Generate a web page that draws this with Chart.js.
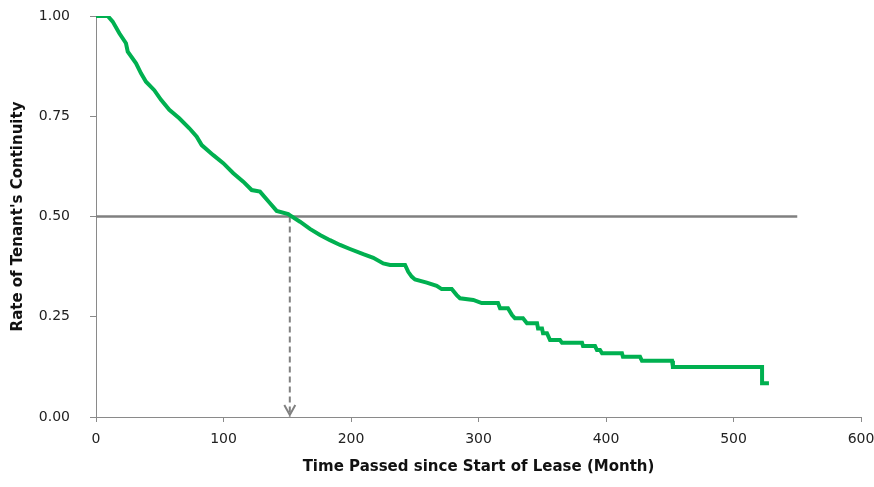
<!DOCTYPE html>
<html lang="en">
<head>
  <meta charset="UTF-8" />
  <script src="https://cdn.jsdelivr.net/npm/chart.js"></script>
  <title>Tenant Continuity</title>
  <style>
    html, body { margin: 0; padding: 0; background: #fff; }
    #wrap { width: 874px; height: 487px; }
  </style>
</head>
<body>
  <div id="wrap"><canvas id="survivalChart"></canvas></div>

  <script>
    // Kaplan-Meier style curve (months, rate)
    const timeMonths = [
      0, 9.2, 13.1, 18.3, 23.5, 24.9, 31.4, 35.3, 39.2, 45.7, 51, 57.5, 65.3, 73.2,
      79, 82.9, 92, 99.8, 107.7, 115.5, 122.1, 128.6, 136.5, 141.7, 150.8, 152.2, 160,
      167.8, 175.7, 183.5, 191.4, 199.2, 209.6, 217.5, 225.3, 230.6, 242.4, 244.9, 247.6,
      250.2, 259.4, 267.2, 271.1, 279, 282.9, 285.5, 295.9, 302.5, 315.3, 316.9, 323.1,
      326.3, 328.6, 334.9, 338, 345.9, 346.7, 349.8, 350.6, 353.7, 356.1, 363.9, 365.5,
      381.2, 382, 391.4, 392.9, 395.3, 396.9, 412.5, 413.3, 426.7, 428.2, 451.8, 452.5,
      522.4, 522.4, 527.8
    ];
    const continuity = [
      1.0, 1.0, 0.986, 0.957, 0.932, 0.911, 0.882, 0.857, 0.836, 0.815, 0.791, 0.766, 0.745, 0.72,
      0.699, 0.678, 0.653, 0.633, 0.608, 0.587, 0.566, 0.562, 0.533, 0.514, 0.506, 0.503, 0.487,
      0.469, 0.454, 0.441, 0.429, 0.419, 0.406, 0.397, 0.383, 0.379, 0.379, 0.362, 0.35,
      0.343, 0.335, 0.327, 0.319, 0.319, 0.304, 0.296, 0.292, 0.284, 0.284, 0.271, 0.271,
      0.254, 0.246, 0.246, 0.234, 0.234, 0.221, 0.221, 0.209, 0.209, 0.192, 0.192, 0.185,
      0.185, 0.177, 0.177, 0.167, 0.167, 0.159, 0.159, 0.15, 0.15, 0.14, 0.14, 0.125,
      0.125, 0.084, 0.084
    ];

    // median reference lines
    const medianRate = 0.5;
    const medianTime = 152;
    const medianLineEnd = 550;

    const xTicks = [0, 100, 200, 300, 400, 500, 600];
    const yTicks = [0, 0.25, 0.5, 0.75, 1.0];

    const FONT = '"DejaVu Sans", Tahoma, sans-serif';
    const AXIS_GRAY = '#8a8a8a';

    // little open arrow head at the foot of the dashed median line
    const arrowHead = {
      id: 'arrowHead',
      afterDatasetsDraw(chart) {
        const {ctx, scales} = chart;
        const x = scales.x.getPixelForValue(medianTime);
        const y = scales.y.getPixelForValue(0);
        ctx.save();
        ctx.strokeStyle = '#808080';
        ctx.lineWidth = 2;
        ctx.beginPath();
        ctx.moveTo(x - 5.5, y - 12);
        ctx.lineTo(x, y - 2);
        ctx.lineTo(x + 5.5, y - 12);
        ctx.stroke();
        ctx.restore();
      }
    };

    const ctx = document.getElementById('survivalChart').getContext('2d');
    new Chart(ctx, {
      type: 'scatter',
      data: {
        datasets: [
          {
            label: 'Median',
            data: [{x: 0, y: medianRate}, {x: medianLineEnd, y: medianRate}],
            showLine: true,
            borderColor: '#808080',
            borderWidth: 2.5,
            pointRadius: 0,
            order: 2
          },
          {
            label: 'Median time',
            data: [{x: medianTime, y: medianRate}, {x: medianTime, y: 0}],
            showLine: true,
            borderColor: '#808080',
            borderWidth: 2,
            borderDash: [6, 4],
            pointRadius: 0,
            order: 2
          },
          {
            label: "Tenant's continuity",
            data: timeMonths.map((t, i) => ({x: t, y: continuity[i]})),
            showLine: true,
            borderColor: '#00b050',
            borderWidth: 4,
            borderJoinStyle: 'miter',
            pointRadius: 0,
            tension: 0,
            order: 1
          }
        ]
      },
      options: {
        responsive: true,
        maintainAspectRatio: false,
        animation: false,
        layout: { padding: { left: 0, right: 13, top: 16, bottom: 0 } },
        plugins: { legend: { display: false }, tooltip: { enabled: false } },
        scales: {
          x: {
            type: 'linear',
            min: 0,
            max: 600,
            afterFit(scale) {
              scale.height = 70;
              scale.paddingLeft = 0;
              scale.paddingRight = 0;
            },
            afterBuildTicks(scale) { scale.ticks = xTicks.map(v => ({value: v})); },
            ticks: { color: '#222', padding: 9, maxRotation: 0, font: { family: FONT, size: 14 } },
            grid: { drawOnChartArea: false, drawTicks: true, tickLength: 5, color: AXIS_GRAY },
            border: { color: AXIS_GRAY, width: 1 },
            title: {
              display: true,
              text: 'Time Passed since Start of Lease (Month)',
              color: '#111',
              font: { family: FONT, size: 15, weight: 'bold' },
              padding: { top: 4, bottom: 11 }
            }
          },
          y: {
            min: 0,
            max: 1,
            afterFit(scale) {
              scale.width = 96;
              scale.paddingTop = 0;
              scale.paddingBottom = 0;
            },
            afterBuildTicks(scale) { scale.ticks = yTicks.map(v => ({value: v})); },
            ticks: {
              color: '#222',
              padding: 20,
              font: { family: FONT, size: 14 },
              callback: v => v.toFixed(2)
            },
            grid: { drawOnChartArea: false, drawTicks: true, tickLength: 6, color: AXIS_GRAY },
            border: { color: AXIS_GRAY, width: 1 },
            title: {
              display: true,
              text: "Rate of Tenant's Continuity",
              color: '#111',
              font: { family: FONT, size: 15, weight: 'bold' },
              padding: { top: 9, bottom: 0 }
            }
          }
        }
      },
      plugins: [arrowHead]
    });
  </script>
</body>
</html>
